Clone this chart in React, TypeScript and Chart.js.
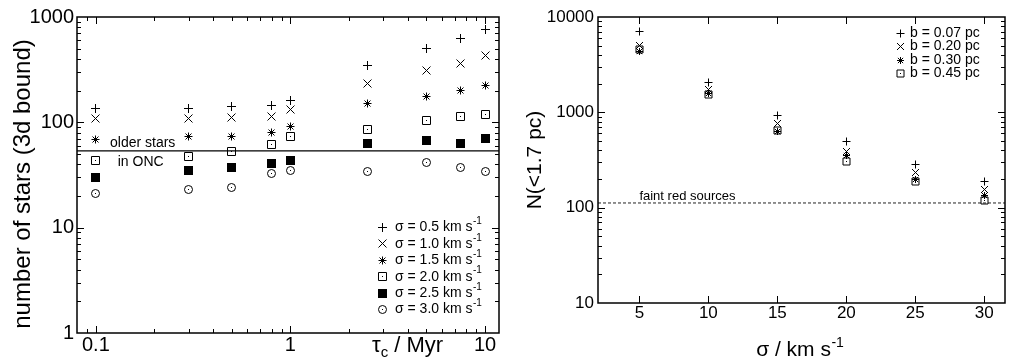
import React, { useEffect, useRef } from "react";
import { Chart, registerables } from "chart.js";

Chart.register(...registerables);

const FONT = "'Liberation Sans', Arial, Helvetica, sans-serif";

// ---------- Left panel data ----------
const tauC = [0.1, 0.3, 0.5, 0.8, 1.0, 2.5, 5, 7.5, 10];
const nSigma05 = [134, 134, 140, 146, 160, 343, 500, 624, 754];
const nSigma10 = [109, 109, 110, 113, 131, 235, 308, 364, 430];
const nSigma15 = [68, 73, 74, 80, 92, 152, 175, 200, 222];
const nSigma20 = [43, 47, 53, 62, 74, 86, 104, 113, 118];
const nSigma25 = [30, 35, 37, 41, 43, 63, 67, 63, 70];
const nSigma30 = [21, 23, 24, 33, 35, 34, 42, 37, 34.5];
const leftLabels = [
  "σ = 0.5 km s",
  "σ = 1.0 km s",
  "σ = 1.5 km s",
  "σ = 2.0 km s",
  "σ = 2.5 km s",
  "σ = 3.0 km s",
];
const olderStarsLevel = 53.5;
const leftXRange = [0.08, 11.8];
const leftYRange = [1, 1000];
const leftXTicks = [0.1, 1, 10];
const leftXMinor = [0.08, 0.09, 0.2, 0.3, 0.4, 0.5, 0.6, 0.7, 0.8, 0.9, 2, 3, 4, 5, 6, 7, 8, 9];
const leftYTicks = [1, 10, 100, 1000];
const leftYMinor = [2, 3, 4, 5, 6, 7, 8, 9, 20, 30, 40, 50, 60, 70, 80, 90, 200, 300, 400, 500, 600, 700, 800, 900];

// ---------- Right panel data ----------
const sigmaKms = [5, 10, 15, 20, 25, 30];
const nB007 = [7130, 2055, 930, 499, 284, 186];
const nB020 = [4990, 1746, 766, 392, 235, 155];
const nB030 = [4310, 1573, 635, 355, 197, 134];
const nB045 = [4600, 1524, 646, 307, 189, 119];
const rightLabels = ["b = 0.07 pc", "b = 0.20 pc", "b = 0.30 pc", "b = 0.45 pc"];
const faintRedLevel = 112;
const rightXRange = [2, 31.5];
const rightYRange = [10, 10000];
const rightXTicks = [5, 10, 15, 20, 25, 30];
const rightYTicks = [10, 100, 1000, 10000];
const rightYMinor = [20, 30, 40, 50, 60, 70, 80, 90, 200, 300, 400, 500, 600, 700, 800, 900, 2000, 3000, 4000, 5000, 6000, 7000, 8000, 9000];

type Kind = "plus" | "cross" | "star" | "boxdot" | "fillbox" | "circdot";

function drawMarker(ctx: CanvasRenderingContext2D, kind: Kind, x: number, y: number, h: number) {
  ctx.save();
  ctx.strokeStyle = "#000";
  ctx.fillStyle = "#000";
  ctx.lineWidth = 1;
  ctx.beginPath();
  if (kind === "plus" || kind === "star") {
    ctx.moveTo(x - h, y);
    ctx.lineTo(x + h, y);
    ctx.moveTo(x, y - h);
    ctx.lineTo(x, y + h);
  }
  if (kind === "cross" || kind === "star") {
    const d = kind === "star" ? h * 0.75 : h;
    ctx.moveTo(x - d, y - d);
    ctx.lineTo(x + d, y + d);
    ctx.moveTo(x - d, y + d);
    ctx.lineTo(x + d, y - d);
  }
  if (kind === "boxdot") {
    ctx.rect(x - h, y - h, 2 * h, 2 * h);
  }
  if (kind === "circdot") {
    ctx.arc(x, y, h, 0, Math.PI * 2);
  }
  ctx.stroke();
  if (kind === "fillbox") {
    ctx.fillRect(x - h - 0.5, y - h - 0.5, 2 * h + 1, 2 * h + 1);
  }
  if (kind === "boxdot" || kind === "circdot") {
    ctx.fillRect(x - 0.5, y - 0.5, 1, 1);
  }
  ctx.restore();
}

function markerImage(kind: Kind, h: number): HTMLCanvasElement {
  const size = 2 * Math.ceil(h) + 5;
  const c = document.createElement("canvas");
  c.width = size;
  c.height = size;
  const ctx = c.getContext("2d")!;
  drawMarker(ctx, kind, size / 2, size / 2, h);
  return c;
}

function drawInwardTicks(
  chart: any,
  xMajor: number[],
  xMinor: number[],
  yMajor: number[],
  yMinor: number[]
) {
  const { ctx, chartArea } = chart;
  const { left, right, top, bottom } = chartArea;
  const xs = chart.scales.x;
  const ys = chart.scales.y;
  const MAJ = 7;
  const MIN = 4;
  ctx.save();
  ctx.strokeStyle = "#000";
  ctx.lineWidth = 1;
  ctx.beginPath();
  const vx = (v: number, len: number) => {
    const p = Math.round(xs.getPixelForValue(v)) + 0.5;
    if (p < left + 1 || p > right - 1) return;
    ctx.moveTo(p, bottom);
    ctx.lineTo(p, bottom - len);
    ctx.moveTo(p, top);
    ctx.lineTo(p, top + len);
  };
  const vy = (v: number, len: number) => {
    const p = Math.round(ys.getPixelForValue(v)) + 0.5;
    if (p < top + 1 || p > bottom - 1) return;
    ctx.moveTo(left, p);
    ctx.lineTo(left + len, p);
    ctx.moveTo(right, p);
    ctx.lineTo(right - len, p);
  };
  xMajor.forEach((v) => vx(v, MAJ));
  xMinor.forEach((v) => vx(v, MIN));
  yMajor.forEach((v) => vy(v, MAJ));
  yMinor.forEach((v) => vy(v, MIN));
  ctx.stroke();
  ctx.lineWidth = 1.5;
  ctx.strokeRect(left, top, right - left, bottom - top);
  ctx.restore();
}

function textWithSup(
  ctx: CanvasRenderingContext2D,
  base: string,
  sup: string,
  x: number,
  y: number,
  size: number,
  supSize: number,
  raise: number
) {
  ctx.font = `${size}px ${FONT}`;
  ctx.fillText(base, x, y);
  const w = ctx.measureText(base).width;
  ctx.font = `${supSize}px ${FONT}`;
  ctx.fillText(sup, x + w + 0.5, y - raise);
  return w + 0.5 + ctx.measureText(sup).width;
}

function scatterSet(xs: number[], ys: number[], img: HTMLCanvasElement) {
  return {
    data: xs.map((x, i) => ({ x, y: ys[i] })),
    pointStyle: img,
    pointRadius: 5,
    showLine: false,
  };
}

function axisCommon(size: number) {
  return {
    grid: { display: false, drawTicks: false },
    border: { display: false },
    ticks: {
      font: { family: FONT, size },
      color: "#000",
      maxRotation: 0,
      autoSkip: false,
      callback: (v: any) => String(v),
    },
  };
}

const crispPoints = {
  id: "crispPoints",
  beforeDatasetsDraw(chart: any) {
    chart.ctx.imageSmoothingEnabled = false;
  },
  afterDatasetsDraw(chart: any) {
    chart.ctx.imageSmoothingEnabled = true;
  },
};

function leftConfig(): any {
  const kinds: Kind[] = ["plus", "cross", "star", "boxdot", "fillbox", "circdot"];
  const sizes = [4.5, 4, 4, 4, 4, 4];
  const series = [nSigma05, nSigma10, nSigma15, nSigma20, nSigma25, nSigma30];
  const imgs = kinds.map((k, i) => markerImage(k, sizes[i]));
  const datasets: any[] = series.map((s, i) => scatterSet(tauC, s, imgs[i]));
  datasets.push({
    data: [
      { x: leftXRange[0], y: olderStarsLevel },
      { x: leftXRange[1], y: olderStarsLevel },
    ],
    showLine: true,
    borderColor: "#000",
    borderWidth: 1.2,
    pointRadius: 0,
  });
  const xc = axisCommon(20);
  const yc = axisCommon(20);
  return {
    type: "scatter",
    data: { datasets },
    options: {
      animation: false,
      responsive: false,
      maintainAspectRatio: false,
      layout: { padding: { top: 17, right: 5, left: 0, bottom: 0 } },
      plugins: { legend: { display: false }, tooltip: { enabled: false } },
      scales: {
        x: {
          ...xc,
          type: "logarithmic",
          min: leftXRange[0],
          max: leftXRange[1],
          ticks: { ...xc.ticks, padding: 0 },
          afterBuildTicks: (s: any) => {
            s.ticks = leftXTicks.map((v) => ({ value: v }));
          },
          afterFit: (s: any) => {
            s.height = 26;
          },
        },
        y: {
          ...yc,
          type: "logarithmic",
          min: leftYRange[0],
          max: leftYRange[1],
          ticks: { ...yc.ticks, padding: 3 },
          afterBuildTicks: (s: any) => {
            s.ticks = leftYTicks.map((v) => ({ value: v }));
          },
          afterFit: (s: any) => {
            s.width = 77;
          },
        },
      },
    },
    plugins: [
      crispPoints,
      {
        id: "leftDecor",
        afterDraw(chart: any) {
          const ctx: CanvasRenderingContext2D = chart.ctx;
          const { right, bottom } = chart.chartArea;
          const xs = chart.scales.x;
          const ys = chart.scales.y;
          drawInwardTicks(chart, leftXTicks, leftXMinor, leftYTicks, leftYMinor);
          ctx.save();
          ctx.fillStyle = "#000";
          // y title
          ctx.save();
          ctx.translate(23, 184);
          ctx.rotate(-Math.PI / 2);
          ctx.font = `24px ${FONT}`;
          ctx.textAlign = "center";
          ctx.textBaseline = "middle";
          ctx.fillText("number of stars (3d bound)", 0, 0);
          ctx.restore();
          // annotation
          ctx.font = `14px ${FONT}`;
          ctx.textAlign = "center";
          ctx.textBaseline = "middle";
          ctx.fillText("older stars", xs.getPixelForValue(0.174), ys.getPixelForValue(63.7));
          ctx.fillText("in ONC", xs.getPixelForValue(0.17), ys.getPixelForValue(42));
          // legend
          ctx.textAlign = "left";
          const y0 = bottom - 106;
          leftLabels.forEach((lab, i) => {
            const yy = y0 + i * 16.4;
            drawMarker(ctx, kinds[i], Math.round(right - 117) + 0.5, Math.round(yy) + 0.5, sizes[i]);
            ctx.fillStyle = "#000";
            textWithSup(ctx, lab, "-1", right - 104, yy + 0.5, 14, 10, 6);
          });
          // x title
          ctx.textBaseline = "alphabetic";
          ctx.textAlign = "left";
          let x = 372;
          ctx.font = `22px ${FONT}`;
          ctx.fillText("τ", x, 352);
          x += ctx.measureText("τ").width;
          ctx.font = `15px ${FONT}`;
          ctx.fillText("c", x, 357);
          x += ctx.measureText("c").width;
          ctx.font = `22px ${FONT}`;
          ctx.fillText(" / Myr", x, 352);
          ctx.restore();
        },
      },
    ],
  };
}

function rightConfig(): any {
  const kinds: Kind[] = ["plus", "cross", "star", "boxdot"];
  const sizes = [4, 3.5, 3.5, 3.5];
  const series = [nB007, nB020, nB030, nB045];
  const imgs = kinds.map((k, i) => markerImage(k, sizes[i]));
  const datasets: any[] = series.map((s, i) => scatterSet(sigmaKms, s, imgs[i]));
  datasets.push({
    data: [
      { x: rightXRange[0], y: faintRedLevel },
      { x: rightXRange[1], y: faintRedLevel },
    ],
    showLine: true,
    borderColor: "#222",
    borderWidth: 1,
    borderDash: [3, 2],
    pointRadius: 0,
  });
  const xc = axisCommon(17);
  const yc = axisCommon(17);
  return {
    type: "scatter",
    data: { datasets },
    options: {
      animation: false,
      responsive: false,
      maintainAspectRatio: false,
      layout: { padding: { top: 17, right: 1, left: 0, bottom: 0 } },
      plugins: { legend: { display: false }, tooltip: { enabled: false } },
      scales: {
        x: {
          ...xc,
          type: "linear",
          min: rightXRange[0],
          max: rightXRange[1],
          ticks: { ...xc.ticks, padding: 0 },
          afterBuildTicks: (s: any) => {
            s.ticks = rightXTicks.map((v) => ({ value: v }));
          },
          afterFit: (s: any) => {
            s.height = 56;
          },
        },
        y: {
          ...yc,
          type: "logarithmic",
          min: rightYRange[0],
          max: rightYRange[1],
          ticks: { ...yc.ticks, padding: 4 },
          title: {
            display: true,
            text: "N(<1.7 pc)",
            font: { family: FONT, size: 21 },
            color: "#000",
            padding: { top: 18, bottom: 0 },
          },
          afterBuildTicks: (s: any) => {
            s.ticks = rightYTicks.map((v) => ({ value: v }));
          },
          afterFit: (s: any) => {
            s.width = 93;
          },
        },
      },
    },
    plugins: [
      crispPoints,
      {
        id: "rightDecor",
        afterDraw(chart: any) {
          const ctx: CanvasRenderingContext2D = chart.ctx;
          const { right, top } = chart.chartArea;
          const xs = chart.scales.x;
          const ys = chart.scales.y;
          drawInwardTicks(chart, rightXTicks, [], rightYTicks, rightYMinor);
          ctx.save();
          ctx.fillStyle = "#000";
          ctx.font = `13px ${FONT}`;
          ctx.textAlign = "left";
          ctx.textBaseline = "middle";
          ctx.fillText("faint red sources", xs.getPixelForValue(5), ys.getPixelForValue(131));
          // legend
          const y0 = top + 15.5;
          rightLabels.forEach((lab, i) => {
            const yy = y0 + i * 13.5;
            drawMarker(ctx, kinds[i], Math.round(right - 105) + 0.5, Math.round(yy) + 0.5, sizes[i]);
            ctx.fillStyle = "#000";
            ctx.font = `14px ${FONT}`;
            ctx.fillText(lab, right - 95, yy + 0.5);
          });
          // x title
          ctx.textBaseline = "alphabetic";
          ctx.font = `21px ${FONT}`;
          const wb = ctx.measureText("σ / km s").width;
          ctx.font = `14px ${FONT}`;
          const ws = ctx.measureText("-1").width;
          const total = wb + ws + 0.5;
          const cx = 295;
          textWithSup(ctx, "σ / km s", "-1", cx - total / 2, 356, 21, 14, 9);
          ctx.restore();
        },
      },
    ],
  };
}

function ChartCanvas(props: { make: () => any; left: number; width: number; height: number }) {
  const ref = useRef<HTMLCanvasElement>(null);
  useEffect(() => {
    const chart = new Chart(ref.current as HTMLCanvasElement, props.make());
    return () => chart.destroy();
  }, []);
  return (
    <canvas
      ref={ref}
      width={props.width}
      height={props.height}
      style={{
        position: "absolute",
        left: props.left,
        top: 0,
        width: props.width,
        height: props.height,
        display: "block",
      }}
    />
  );
}

export default function App() {
  return (
    <div
      style={{
        position: "absolute",
        left: 0,
        top: 0,
        width: 1011,
        height: 359,
        background: "#fff",
        overflow: "hidden",
      }}
    >
      <ChartCanvas make={leftConfig} left={0} width={505} height={359} />
      <ChartCanvas make={rightConfig} left={505} width={506} height={359} />
    </div>
  );
}
